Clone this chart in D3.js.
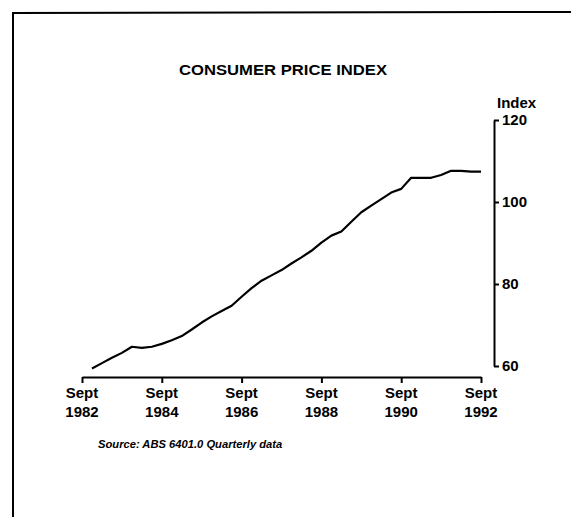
<!DOCTYPE html>
<html>
<head>
<meta charset="utf-8">
<script src="https://cdn.jsdelivr.net/npm/d3@7"></script>
<style>
  body { margin: 0; background: #fff; }
  svg { display: block; font-family: "Liberation Sans", Arial, sans-serif; }
</style>
</head>
<body>
<div id="chart"></div>
<script>
// quarters counted from Sept 1982 (0) to Sept 1992 (40)
var quarters = ["Dec 1982","Mar 1983","Jun 1983","Sep 1983","Dec 1983","Mar 1984","Jun 1984","Sep 1984",
  "Dec 1984","Mar 1985","Jun 1985","Sep 1985","Dec 1985","Mar 1986","Jun 1986","Sep 1986",
  "Dec 1986","Mar 1987","Jun 1987","Sep 1987","Dec 1987","Mar 1988","Jun 1988","Sep 1988",
  "Dec 1988","Mar 1989","Jun 1989","Sep 1989","Dec 1989","Mar 1990","Jun 1990","Sep 1990",
  "Dec 1990","Mar 1991","Jun 1991","Sep 1991","Dec 1991","Mar 1992","Jun 1992","Sep 1992"]
var quarterIndex = d3.range(1, 41)
var cpi = [59.4, 60.7, 62.0, 63.2, 64.7, 64.4, 64.7, 65.4,
  66.3, 67.3, 68.9, 70.6, 72.1, 73.4, 74.7, 76.9,
  79.0, 80.8, 82.1, 83.4, 85.0, 86.5, 88.1, 90.1,
  91.8, 92.8, 95.2, 97.5, 99.1, 100.7, 102.3, 103.2,
  105.9, 105.9, 105.9, 106.6, 107.6, 107.6, 107.4, 107.4]

var xTickPos = [0, 8, 16, 24, 32, 40]
var xTickYears = ["1982", "1984", "1986", "1988", "1990", "1992"]
var yTicks = [60, 80, 100, 120]

var title = "CONSUMER PRICE INDEX"
var source = "Source: ABS 6401.0 Quarterly data"

var width = 571, height = 517

var svg = d3.select("#chart").append("svg")
  .attr("width", width)
  .attr("height", height)

// frame (top and left edges only)
svg.append("path")
  .attr("d", "M13,517 L13,13 L571,12")
  .attr("fill", "none")
  .attr("stroke", "#000")
  .attr("stroke-width", 2)

svg.append("text")
  .attr("x", 283)
  .attr("y", 75)
  .attr("text-anchor", "middle")
  .attr("textLength", 208)
  .attr("lengthAdjust", "spacingAndGlyphs")
  .style("font-size", "14px")
  .style("font-weight", "bold")
  .text(title)

var x = d3.scaleLinear()
  .domain([0, 40])
  .range([82, 481])

var y = d3.scaleLinear()
  .domain([60, 120])
  .range([366, 120])

// x axis
var xAxis = svg.append("g")
  .attr("transform", "translate(0,377)")
  .call(d3.axisBottom(x).tickValues(xTickPos).tickSize(6).tickSizeOuter(0).tickFormat(""))
xAxis.select(".domain").attr("stroke-width", 2)
xAxis.selectAll(".tick line").attr("stroke-width", 2)

xTickPos.forEach(function(q, i) {
  var t = svg.append("text")
    .attr("x", x(q))
    .attr("text-anchor", "middle")
    .style("font-size", "15px")
    .style("font-weight", "bold")
  t.append("tspan").attr("x", x(q)).attr("y", 398).text("Sept")
  t.append("tspan").attr("x", x(q)).attr("y", 417).text(xTickYears[i])
})

// y axis on the right
var yAxis = svg.append("g")
  .attr("transform", "translate(494,0)")
  .call(d3.axisRight(y).tickValues(yTicks).tickSize(5).tickSizeOuter(0).tickPadding(3))
yAxis.select(".domain").attr("stroke-width", 2)
yAxis.selectAll(".tick line").attr("stroke-width", 2)
yAxis.selectAll(".tick text")
  .attr("fill", "#000")
  .style("font-size", "15px")
  .style("font-weight", "bold")
  .style("font-family", "Liberation Sans, Arial, sans-serif")

svg.append("text")
  .attr("x", 497)
  .attr("y", 108)
  .style("font-size", "15px")
  .style("font-weight", "bold")
  .text("Index")

var line = d3.line()
  .x(function(d, i) { return x(quarterIndex[i]) })
  .y(function(d) { return y(d) })

svg.append("path")
  .attr("d", line(cpi))
  .attr("fill", "none")
  .attr("stroke", "#000")
  .attr("stroke-width", 2.2)
  .attr("stroke-linejoin", "round")

svg.append("text")
  .attr("x", 98)
  .attr("y", 448)
  .style("font-size", "11.2px")
  .style("font-style", "italic")
  .style("font-weight", "bold")
  .text(source)
</script>
</body>
</html>
